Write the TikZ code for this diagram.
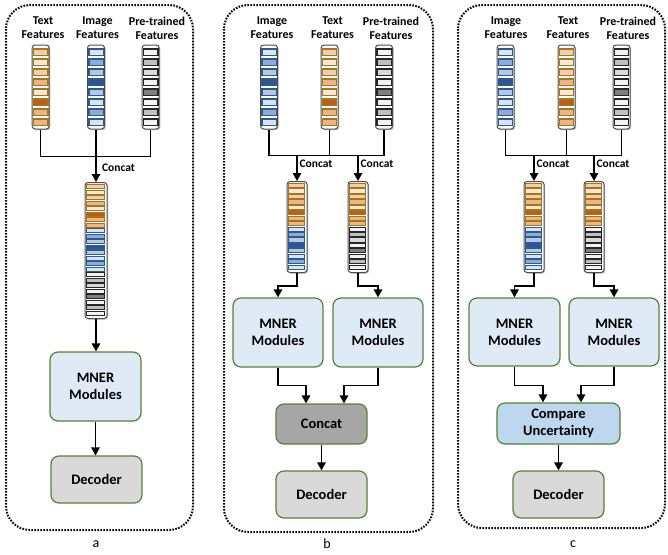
\documentclass[tikz,border=0pt]{standalone}
\usepackage{fontspec}
\setmainfont{Carlito}
\usetikzlibrary{arrows.meta,calc,shadows}
\definecolor{ta}{HTML}{F8CBAD}\definecolor{tb}{HTML}{FBE5D6}\definecolor{tc}{HTML}{F4B183}\definecolor{td}{HTML}{C55A11}\definecolor{tbrd}{HTML}{9C7A1C}
\definecolor{ia}{HTML}{DAE3F3}\definecolor{ib}{HTML}{8FAADC}\definecolor{ic}{HTML}{B4C7E7}\definecolor{id}{HTML}{2F5597}\definecolor{ibrd}{HTML}{2E5C8A}
\definecolor{pa}{HTML}{F2F2F2}\definecolor{pb}{HTML}{BFBFBF}\definecolor{pc}{HTML}{D9D9D9}\definecolor{pd}{HTML}{7F7F7F}\definecolor{pbrd}{HTML}{262626}
\definecolor{mner}{HTML}{DEEBF7}\definecolor{grn}{HTML}{548235}\definecolor{dec}{HTML}{D9D9D9}\definecolor{cat}{HTML}{A6A6A6}\definecolor{cmp}{HTML}{BDD7EE}
\def\textcells{ta/tbrd,tb/tbrd,ta/tbrd,tc/tbrd,tb/tbrd,td/tbrd,tc/tbrd,tc/tbrd}
\def\imagecells{ia/ibrd,ib/ibrd,ic/ibrd,id/ibrd,ic/ibrd,ia/ibrd,ib/ibrd,ia/ibrd}
\def\precells{pa/pbrd,pb/pbrd,pc/pbrd,pa/pbrd,pd/pbrd,pa/pbrd,pb/pbrd,pa/pbrd}
\edef\allcells{\textcells,\imagecells,\precells}
\edef\ticells{\textcells,\imagecells}
\edef\tpcells{\textcells,\precells}
\tikzset{
  vecbox/.style={draw=gray!60!black, fill=white, rounded corners=3pt, line width=1pt,
    drop shadow={shadow xshift=1.2pt, shadow yshift=-1.2pt, opacity=0.5}, inner sep=0pt},
  flabel/.style={font=\fontsize{12}{14}\selectfont\bfseries, align=center, inner sep=0pt},
  clabel/.style={font=\fontsize{11.5}{13}\selectfont\bfseries, inner sep=0pt},
  plabel/.style={font=\fontsize{14}{16}\selectfont, inner sep=0pt},
  boxbase/.style={draw=grn, line width=1.2pt, rounded corners=8pt, align=center,
    font=\fontsize{14.5}{17}\selectfont\bfseries, inner sep=0pt},
  mnerbox/.style={boxbase, fill=mner, minimum width=91pt, minimum height=69pt},
  decbox/.style={boxbase, fill=dec, minimum width=91pt, minimum height=47pt},
  catbox/.style={boxbase, fill=cat, minimum width=91pt, minimum height=40pt},
  cmpbox/.style={boxbase, fill=cmp, minimum width=123pt, minimum height=41pt},
  panel/.style={line width=2pt, dash pattern=on 1.6pt off 1.4pt, rounded corners=24pt},
  conn/.style={line width=1.5pt},
  arr/.style={conn, -{Triangle[length=8pt,width=8.5pt]}},
}
% #1 name, #2 x, #3 cell list
\newcommand\featvec[3]{%
  \node[vecbox, minimum width=17pt, minimum height=84pt] (#1) at (#2,87) {};
  \foreach \cf/\cb [count=\i] in #3 {
    \draw[draw=\cb, line width=1.4pt, fill=\cf] ($(#1.north)+(-7.2,{4.3+(\i-1)*10})$) rectangle ++(14.4,6.6);
  }%
}
% #1 name, #2 x, #3 ytop, #4 width, #5 height, #6 cell list, #7 pitch
\newcommand\catvec[7]{%
  \node[vecbox, anchor=north, minimum width=#4pt, minimum height=#5pt] (#1) at (#2,#3) {};
  \foreach \cf/\cb [count=\i] in #6 {
    \draw[draw=\cb, line width=1pt, fill=\cf] ($(#1.north west)+(2.3,{2.5+(\i-1)*#7})$) rectangle ++({#4-4.6},{#7-1.2});
  }%
}
\begin{document}
\begin{tikzpicture}[x=1pt,y=-1pt]
\useasboundingbox (0,0) rectangle (668,554);
% panels
\draw[panel] (6,5) rectangle (193,530);
\draw[panel] (224,5) rectangle (433,532);
\draw[panel] (458,5) rectangle (665,528);
\node[plabel] (la) at (96,544) {a};
\node[plabel] (lb) at (327,544) {b};
\node[plabel] (lc) at (573,544) {c};

% ===== panel a =====
\node[flabel] (aTl) at (43,28) {Text\\Features};
\node[flabel] (aIl) at (97.5,28) {Image\\Features};
\node[flabel] (aPl) at (157,28) {Pre-trained\\Features};
\featvec{aT}{40.7}{\textcells}
\featvec{aI}{96}{\imagecells}
\featvec{aP}{150.7}{\precells}
\catvec{aC}{96}{182}{22}{136}{\allcells}{5.5}
\draw[conn] (aT.south) -- ++(0,27) -| (aP.south);
\draw[arr] (aI.south) -- (aC.north);
\node[clabel] (aCl) at (118.5,168) {Concat};
\node[mnerbox] (aM) at (95.5,386.5) {MNER\\Modules};
\node[decbox] (aD) at (96.5,479.5) {Decoder};
\draw[arr] (aC.south) -- (aC.south |- aM.north);
\draw[arr] (aM.south) -- (aM.south |- aD.north);

% ===== panel b =====
\node[flabel] (bIl) at (272,28) {Image\\Features};
\node[flabel] (bTl) at (332.5,28) {Text\\Features};
\node[flabel] (bPl) at (391,28) {Pre-trained\\Features};
\featvec{bI}{269}{\imagecells}
\featvec{bT}{329.5}{\textcells}
\featvec{bP}{384}{\precells}
\catvec{bC1}{297}{181}{20}{91}{\ticells}{5.4375}
\catvec{bC2}{358}{181}{20}{91}{\tpcells}{5.4375}
\draw[conn] (bI.south) -- ++(0,26) -| (bP.south);
\draw[conn] (bT.south) -- ++(0,26);
\coordinate (bj1) at (297,155);
\coordinate (bj2) at (358,155);
\draw[arr] (bj1) -- (bC1.north);
\draw[arr] (bj2) -- (bC2.north);
\node[clabel] (bCl1) at (316,164) {Concat};
\node[clabel] (bCl2) at (377,164) {Concat};
\node[mnerbox, minimum width=90pt] (bM1) at (278,332.5) {MNER\\Modules};
\node[mnerbox, minimum width=90pt] (bM2) at (378,332.5) {MNER\\Modules};
\draw[arr] (bC1.south) -- ++(0,13) -| (bM1.north);
\draw[arr] (bC2.south) -- ++(0,13) -| (bM2.north);
\node[catbox] (bX) at (321.5,424) {Concat};
\node[decbox] (bD) at (321.5,494.5) {Decoder};
\draw[arr] (bM1.south) -- ++(0,18) -| ([xshift=-15.5pt]bX.north);
\draw[arr] (bM2.south) -- ++(0,18) -| ([xshift=22.5pt]bX.north);
\draw[arr] (bX.south) -- (bD.north);

% ===== panel c =====
\node[flabel] (cIl) at (506,28) {Image\\Features};
\node[flabel] (cTl) at (568,28) {Text\\Features};
\node[flabel] (cPl) at (628,28) {Pre-trained\\Features};
\featvec{cI}{505.5}{\imagecells}
\featvec{cT}{566.5}{\textcells}
\featvec{cP}{621.5}{\precells}
\catvec{cC1}{534}{181}{20}{91}{\ticells}{5.4375}
\catvec{cC2}{594}{181}{20}{91}{\tpcells}{5.4375}
\draw[conn] (cI.south) -- ++(0,26) -| (cP.south);
\draw[conn] (cT.south) -- ++(0,26);
\coordinate (cj1) at (534,155);
\coordinate (cj2) at (594,155);
\draw[arr] (cj1) -- (cC1.north);
\draw[arr] (cj2) -- (cC2.north);
\node[clabel] (cCl1) at (553,164) {Concat};
\node[clabel] (cCl2) at (613,164) {Concat};
\node[mnerbox, minimum height=68pt] (cM1) at (514.5,332) {MNER\\Modules};
\node[mnerbox, minimum width=90pt, minimum height=68pt] (cM2) at (614,332) {MNER\\Modules};
\draw[arr] (cC1.south) -- ++(0,13) -| (cM1.north);
\draw[arr] (cC2.south) -- ++(0,13) -| (cM2.north);
\node[cmpbox] (cU) at (558.5,423.5) {Compare\\Uncertainty};
\node[decbox] (cD) at (558.5,494.5) {Decoder};
\draw[arr] (cM1.south) -- ++(0,19) -| ([xshift=-15.5pt]cU.north);
\draw[arr] (cM2.south) -- ++(0,19) -| ([xshift=22.5pt]cU.north);
\draw[arr] (cU.south) -- (cD.north);
\end{tikzpicture}
\end{document}
